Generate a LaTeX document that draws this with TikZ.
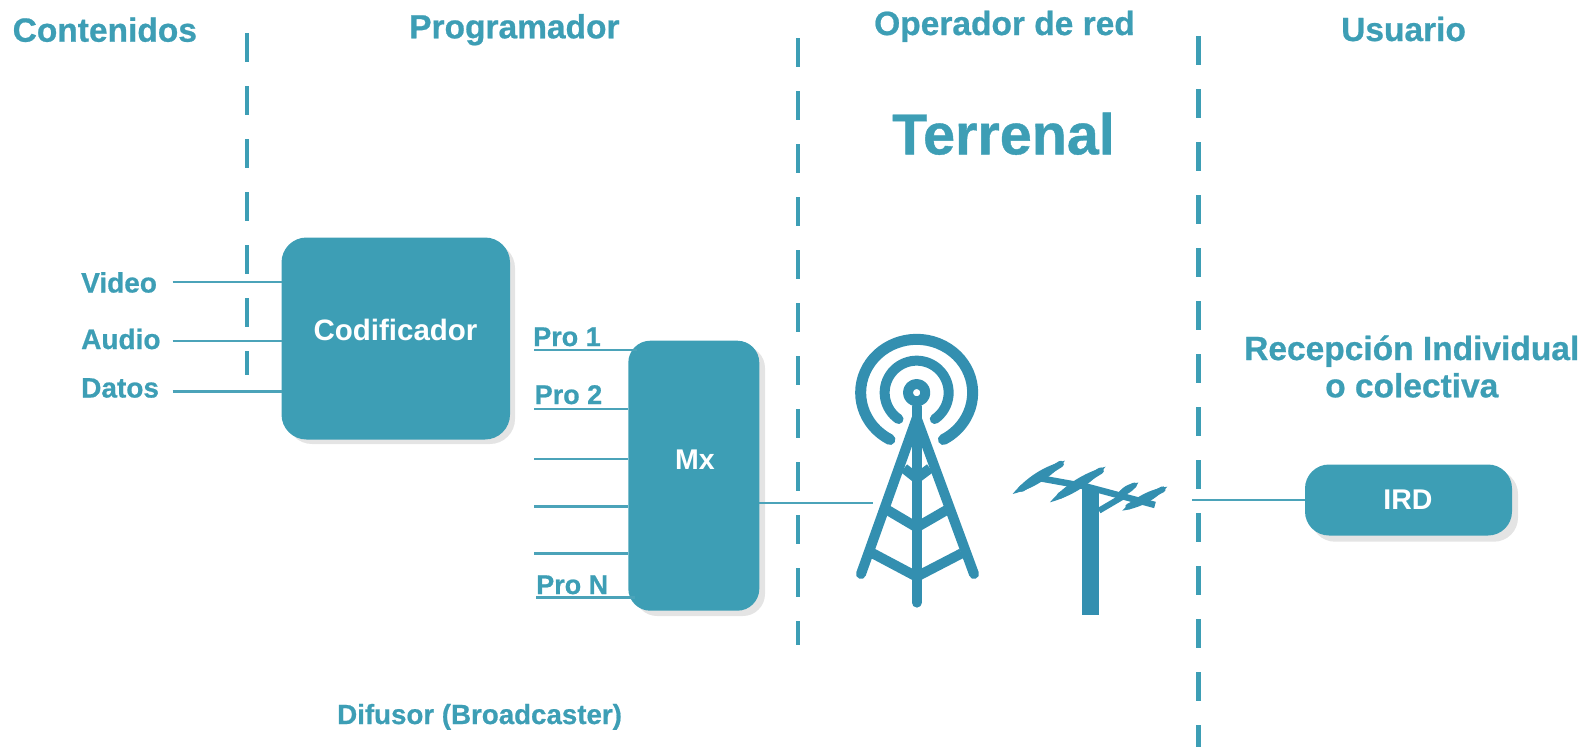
\documentclass[tikz,border=0pt]{standalone}
\usepackage{fontspec}
\setmainfont{Liberation Sans}
\newfontfamily\heavyfont[FakeBold=0.7]{Liberation Sans Bold}
\newfontfamily\boldfont{Liberation Sans Bold}
\definecolor{teal1}{HTML}{3D9EB5}
\definecolor{icon}{HTML}{338FB0}
\definecolor{shadowc}{HTML}{E4E4E4}
\definecolor{linec}{HTML}{4BA3B9}
\tikzset{
 lbl/.style={anchor=base west,inner sep=0pt,text=teal1,font=\heavyfont\fontsize{#1}{#1}\selectfont},
 boxlbl/.style={anchor=base,text=white,inner sep=0pt,font=\boldfont\fontsize{#1}{#1}\selectfont},
 conn/.style={draw=linec,line width=#1},
 conn/.default=2.3pt,
 sep/.style={draw=teal1,line width=4.5pt,dash pattern=on 29pt off 24pt},
 ic/.style={draw=icon,line width=10pt,line cap=round,line join=round},
 leaf/.style={fill=icon,draw=none},
 leafcore/.style={draw=icon,line width=6.5pt,line cap=round},
}
\begin{document}
\begin{tikzpicture}[x=1pt,y=-1pt]
\useasboundingbox (0,0) rectangle (1587,747);
% separators
\coordinate (s1a) at (247,33); \coordinate (s1b) at (247,375);
\coordinate (s2a) at (798,38); \coordinate (s2b) at (798,645);
\coordinate (s3a) at (1198.5,36); \coordinate (s3b) at (1198.5,747);
\draw[sep] (s1a) -- (s1b);
\draw[sep] (s2a) -- (s2b);
\draw[sep] (s3a) -- (s3b);
% headers
\node[lbl=33.5] (h1) at (12.5,41.7) {Contenidos};
\node[lbl=33.5] (h2) at (409,38.3) {Programador};
\node[lbl=33.5] (h3) at (874,35) {Operador de red};
\node[lbl=33.5] (h4) at (1341,41) {Usuario};
\node[lbl=57.5] (h5) at (892,154.3) {Terrenal};
\node[lbl=27.7] (f1) at (337,724) {Difusor (Broadcaster)};
% boxes with shadows
\fill[shadowc,rounded corners=25pt] (287,243) rectangle (515,444);
\fill[shadowc,rounded corners=22pt] (635,346) rectangle (765,616);
\fill[shadowc,rounded corners=24pt] (1311,470) rectangle (1518,541.7);
\fill[teal1,rounded corners=25pt] (281.5,237.5) rectangle (510,439.5);
\fill[teal1,rounded corners=22pt] (628.3,340.7) rectangle (759.3,610.7);
\fill[teal1,rounded corners=24pt] (1305,464.5) rectangle (1512,535.5);
\node[boxlbl=29.5] (cod) at (395.5,340) {Codificador};
\node[boxlbl=28.5] (mx) at (695,469.3) {Mx};
\node[boxlbl=28.5] (ird) at (1408,509) {IRD};
\coordinate (codW1) at (281.5,282.3);
\coordinate (codW2) at (281.5,340.7);
\coordinate (codW3) at (281.5,391.3);
% inputs
\node[lbl=28] (video) at (81,292.5) {Video};
\node[lbl=28] (audio) at (81,349) {Audio};
\node[lbl=28] (datos) at (81,397.5) {Datos};
\coordinate (v0) at (172.7,282.3); \coordinate (a0) at (172.7,340.7); \coordinate (d0) at (172.7,391.3);
\draw[conn=2pt] (v0) -- (codW1);
\draw[conn=2.3pt] (a0) -- (codW2);
\draw[conn=3pt] (d0) -- (codW3);
% programme lines
\node[lbl=27] (p1) at (533,346) {Pro 1};
\node[lbl=27] (p2) at (534.5,404) {Pro 2};
\node[lbl=27] (pn) at (536,594) {Pro N};
\foreach \n/\xs/\yy/\xe in {a/534/350/637,b/534/409/628.3,c/534/459/628.3,d/534/506.7/628.3,e/534/553.7/628.3,f/536/597.7/635}{
 \coordinate (l\n) at (\xs,\yy); \coordinate (m\n) at (\xe,\yy);
 \draw[conn=2.6pt] (l\n) -- (m\n);
}
% output lines
\coordinate (mxE) at (759.3,503.3); \coordinate (tw) at (873,503.3);
\draw[conn=2pt] (mxE) -- (tw);
\coordinate (ant) at (1192,500); \coordinate (irdW) at (1305,500);
\draw[conn=2.3pt] (ant) -- (irdW);
% tower and antenna icons
\begin{scope}[shift={(830,310)},x=0.3333pt,y=-0.3333pt]
\draw[ic] (260,248) circle[radius=26];
\draw[ic] (260,248) ++(124.5:96) arc[start angle=124.5,end angle=415.5,radius=96];
\draw[ic,line width=11pt] (260,248) ++(118.5:168 and 160) arc[start angle=118.5,end angle=421.5,x radius=168,y radius=160];
\draw[ic] (260,290) -- (260,878);
\draw[ic] (93,792) -- (260,325) -- (432,792);
\draw[ic,line cap=butt] (222,475) -- (260,505) -- (300,475);
\draw[ic,line cap=butt] (172,600) -- (260,652) -- (350,600);
\draw[ic,line cap=butt] (128,730) -- (260,800) -- (395,730);
% antenna
\fill[icon] (755,535) rectangle (807,915);
\draw[icon,line width=6.5pt] (620,503) -- (770,530) -- (975,585);
\draw[icon,line width=6pt] (807,602) -- (875,562);
\draw[leafcore] (575,536) -- (692,462);
\draw[leafcore] (690,557) -- (812,482);
\draw[leafcore,line width=5.5pt] (875,549) -- (912,526);
\draw[leafcore,line width=6pt] (895,590) -- (998,538);
\fill[leaf] (548,552) .. controls (589,502) and (642,468) .. (705,452) .. controls (664,502) and (611,536) .. cycle;
\fill[leaf] (660,577) .. controls (705,524) and (760,489) .. (827,470) .. controls (782,523) and (727,558) .. cycle;
\fill[leaf] (858,560) .. controls (872,533) and (895,519) .. (925,518) .. controls (911,545) and (888,559) .. cycle;
\fill[leaf] (877,602) .. controls (913,562) and (958,538) .. (1012,530) .. controls (976,570) and (931,594) .. cycle;
\end{scope}
% reception
\node[lbl=33.5] (r1) at (1244,360) {Recepción Individual};
\node[lbl=33.5] (r2) at (1325,397.3) {o colectiva};
\end{tikzpicture}
\end{document}
